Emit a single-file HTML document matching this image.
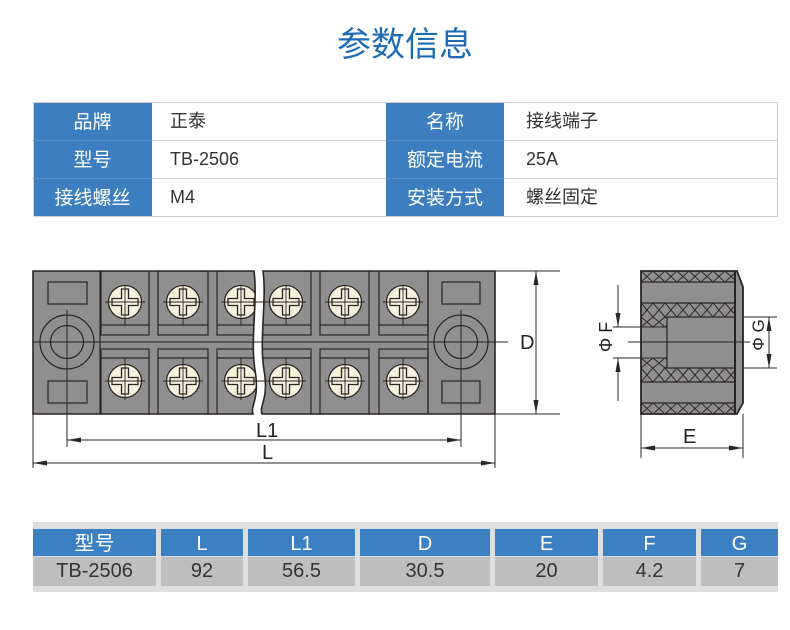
<!DOCTYPE html>
<html><head><meta charset="utf-8">
<style>
html,body{margin:0;padding:0;background:#fff;}
body{width:790px;height:630px;position:relative;overflow:hidden;font-family:"Liberation Sans","Noto Sans CJK SC",sans-serif;}
.a{position:absolute;box-sizing:border-box;}
.title{left:305px;top:25px;width:200px;height:40px;line-height:40px;text-align:center;font-size:34px;color:#1f6cb5;font-family:"Liberation Sans","Noto Sans CJK SC",sans-serif;}
.bl{background:#3c7ebf;color:#fff;font-size:19px;text-align:center;line-height:41px;height:38px;overflow:hidden;}
.wh{background:#fff;color:#333;font-size:18px;line-height:39px;height:38px;overflow:hidden;}
.hb{background:#3b80c3;color:#fff;font-size:20px;text-align:center;height:27px;line-height:30px;top:529px;overflow:hidden;}
.gd{background:#bebebe;color:#333;font-size:20px;text-align:center;height:29px;line-height:29px;top:557px;}
</style></head><body>

<div class="a title">参数信息</div>

<!-- top table -->
<div class="a bl" style="left:33px;top:102px;width:119px;">品牌</div>
<div class="a wh" style="left:152px;top:102px;width:234px;padding-left:18px;">正泰</div>
<div class="a bl" style="left:386px;top:102px;width:118px;">名称</div>
<div class="a wh" style="left:504px;top:102px;width:272px;padding-left:22px;">接线端子</div>

<div class="a bl" style="left:33px;top:140px;width:119px;">型号</div>
<div class="a wh" style="left:152px;top:140px;width:234px;padding-left:18px;">TB-2506</div>
<div class="a bl" style="left:386px;top:140px;width:118px;">额定电流</div>
<div class="a wh" style="left:504px;top:140px;width:272px;padding-left:22px;">25A</div>

<div class="a bl" style="left:33px;top:178px;width:119px;">接线螺丝</div>
<div class="a wh" style="left:152px;top:178px;width:234px;padding-left:18px;">M4</div>
<div class="a bl" style="left:386px;top:178px;width:118px;">安装方式</div>
<div class="a wh" style="left:504px;top:178px;width:272px;padding-left:22px;">螺丝固定</div>

<div class="a" style="left:33px;top:102px;width:745px;height:115px;border:1px solid #d2d2d2;"></div>
<div class="a" style="left:152px;top:140px;width:234px;height:1px;background:#d2d2d2;"></div>
<div class="a" style="left:152px;top:178px;width:234px;height:1px;background:#d2d2d2;"></div>
<div class="a" style="left:504px;top:140px;width:273px;height:1px;background:#d2d2d2;"></div>
<div class="a" style="left:504px;top:178px;width:273px;height:1px;background:#d2d2d2;"></div>
<div class="a" style="left:33px;top:140px;width:119px;height:1px;background:#5a91c9;"></div>
<div class="a" style="left:33px;top:178px;width:119px;height:1px;background:#5a91c9;"></div>
<div class="a" style="left:386px;top:140px;width:118px;height:1px;background:#5a91c9;"></div>
<div class="a" style="left:386px;top:178px;width:118px;height:1px;background:#5a91c9;"></div>

<!-- diagram -->
<svg class="a" style="left:0;top:0;" width="790" height="630" viewBox="0 0 790 630" xmlns="http://www.w3.org/2000/svg">
<defs>
  <clipPath id="cl"><path d="M33,271 H254 C258,300 250,340 255,370 C260,400 250,405 253,414 H33 Z"/></clipPath>
  <clipPath id="cr"><path d="M263,271 H495 V414 H262 C259,405 269,400 264,370 C259,340 267,300 263,271 Z"/></clipPath>
  <pattern id="p1" patternUnits="userSpaceOnUse" x="641" y="271" width="12" height="11"><path d="M0,0 L12,11 M12,0 L0,11" stroke="#2b2424" stroke-width="1" fill="none"/></pattern>
  <pattern id="p2" patternUnits="userSpaceOnUse" x="641" y="303" width="12" height="14"><path d="M0,0 L12,14 M12,0 L0,14" stroke="#2b2424" stroke-width="1" fill="none"/></pattern>
  <pattern id="p3" patternUnits="userSpaceOnUse" x="641" y="317" width="12" height="10"><path d="M0,0 L12,10 M12,0 L0,10" stroke="#2b2424" stroke-width="1" fill="none"/></pattern>
  <pattern id="p4" patternUnits="userSpaceOnUse" x="641" y="358" width="12" height="10"><path d="M0,0 L12,10 M12,0 L0,10" stroke="#2b2424" stroke-width="1" fill="none"/></pattern>
  <pattern id="p5" patternUnits="userSpaceOnUse" x="641" y="368" width="12" height="14"><path d="M0,0 L12,14 M12,0 L0,14" stroke="#2b2424" stroke-width="1" fill="none"/></pattern>
  <pattern id="p6" patternUnits="userSpaceOnUse" x="641" y="403" width="12" height="11"><path d="M0,0 L12,11 M12,0 L0,11" stroke="#2b2424" stroke-width="1" fill="none"/></pattern>
  <g id="scT">
    <line x1="-20" y1="0" x2="20" y2="0" stroke="#2b2424" stroke-width="1"/>
    <line x1="0" y1="-17" x2="0" y2="23" stroke="#2b2424" stroke-width="1"/>
    <circle cx="0" cy="0" r="16.5" fill="#f4f1dc" stroke="#2b2424" stroke-width="1.3"/>
    <path d="M-3.5,-13 H3.5 V-3.5 H13 V3.5 H3.5 V13 H-3.5 V3.5 H-13 V-3.5 H-3.5 Z" fill="none" stroke="#2b2424" stroke-width="1.3"/>
    <line x1="-20" y1="0" x2="20" y2="0" stroke="#2b2424" stroke-width="0.9"/>
    <line x1="0" y1="-17" x2="0" y2="23" stroke="#2b2424" stroke-width="0.9"/>
  </g>
  <g id="scB">
    <line x1="-20" y1="0" x2="20" y2="0" stroke="#2b2424" stroke-width="1"/>
    <circle cx="0" cy="0" r="16.5" fill="#f4f1dc" stroke="#2b2424" stroke-width="1.3"/>
    <path d="M-3.5,-13 H3.5 V-3.5 H13 V3.5 H3.5 V13 H-3.5 V3.5 H-13 V-3.5 H-3.5 Z" fill="none" stroke="#2b2424" stroke-width="1.3"/>
    <line x1="-20" y1="0" x2="20" y2="0" stroke="#2b2424" stroke-width="0.9"/>
    <line x1="0" y1="-23" x2="0" y2="19" stroke="#2b2424" stroke-width="0.9"/>
  </g>
</defs>

<!-- body pieces -->
<path d="M33,271 H254 C258,300 250,340 255,370 C260,400 250,405 253,414 H33 Z" fill="#8f8f8f"/>
<path d="M263,271 H495 V414 H262 C259,405 269,400 264,370 C259,340 267,300 263,271 Z" fill="#8f8f8f"/>

<g fill="none" stroke="#2b2424" stroke-width="1.2">
<g clip-path="url(#cl)">
  <line x1="100" y1="271" x2="100" y2="414"/>
  <rect x="48" y="282" width="39" height="22"/>
  <rect x="48" y="381" width="39" height="22"/>
  <circle cx="67" cy="342" r="27"/>
  <circle cx="67" cy="342" r="16.5"/>
  <rect x="101" y="271" width="48" height="64"/><line x1="101" y1="325" x2="149" y2="325"/>
  <rect x="101" y="349" width="48" height="65"/><line x1="101" y1="358" x2="149" y2="358"/>
  <rect x="158" y="271" width="50" height="64"/><line x1="158" y1="325" x2="208" y2="325"/>
  <rect x="158" y="349" width="50" height="65"/><line x1="158" y1="358" x2="208" y2="358"/>
  <rect x="217" y="271" width="60" height="64"/><line x1="217" y1="325" x2="277" y2="325"/>
  <rect x="217" y="349" width="60" height="65"/><line x1="217" y1="358" x2="277" y2="358"/>
  <use href="#scT" x="125" y="302"/><use href="#scB" x="125" y="381"/>
  <use href="#scT" x="183" y="302"/><use href="#scB" x="183" y="381"/>
  <use href="#scT" x="241" y="302"/><use href="#scB" x="241" y="381"/>
</g>
<g clip-path="url(#cr)">
  <rect x="245" y="271" width="66" height="64"/><line x1="245" y1="325" x2="311" y2="325"/>
  <rect x="245" y="349" width="66" height="65"/><line x1="245" y1="358" x2="311" y2="358"/>
  <rect x="320" y="271" width="49" height="64"/><line x1="320" y1="325" x2="369" y2="325"/>
  <rect x="320" y="349" width="49" height="65"/><line x1="320" y1="358" x2="369" y2="358"/>
  <rect x="379" y="271" width="49" height="64"/><line x1="379" y1="325" x2="428" y2="325"/>
  <rect x="379" y="349" width="49" height="65"/><line x1="379" y1="358" x2="428" y2="358"/>
  <line x1="428" y1="271" x2="428" y2="414"/>
  <rect x="442" y="282" width="38" height="22"/>
  <rect x="442" y="381" width="38" height="22"/>
  <circle cx="461" cy="342" r="27"/>
  <circle cx="461" cy="342" r="16.5"/>
  <use href="#scT" x="286" y="302"/><use href="#scB" x="286" y="381"/>
  <use href="#scT" x="345" y="302"/><use href="#scB" x="345" y="381"/>
  <use href="#scT" x="403" y="302"/><use href="#scB" x="403" y="381"/>
</g>
<path d="M33,271 H254 C258,300 250,340 255,370 C260,400 250,405 253,414 H33 Z" stroke-width="1.6"/>
<path d="M263,271 H495 V414 H262 C259,405 269,400 264,370 C259,340 267,300 263,271 Z" stroke-width="1.6"/>
</g>

<!-- center / extension lines -->
<g stroke="#2b2424" stroke-width="1" fill="none">
  <line x1="33" y1="342" x2="508" y2="342"/>
  <line x1="244" y1="302" x2="272" y2="302"/>
  <line x1="244" y1="381" x2="272" y2="381"/>
  <line x1="67" y1="310" x2="67" y2="447"/>
  <line x1="461" y1="310" x2="461" y2="447"/>
  <line x1="33" y1="414" x2="33" y2="468"/>
  <line x1="495" y1="414" x2="495" y2="468"/>
  <line x1="67" y1="440" x2="461" y2="440"/>
  <line x1="33" y1="463" x2="495" y2="463"/>
  <line x1="495" y1="271" x2="560" y2="271"/>
  <line x1="495" y1="414" x2="560" y2="414"/>
  <line x1="536" y1="271" x2="536" y2="414"/>
</g>
<g fill="#2b2424">
  <polygon points="67,440 81,437.5 81,442.5"/>
  <polygon points="461,440 447,437.5 447,442.5"/>
  <polygon points="33,463 47,460.5 47,465.5"/>
  <polygon points="495,463 481,460.5 481,465.5"/>
  <polygon points="536,271 533.5,285 538.5,285"/>
  <polygon points="536,414 533.5,400 538.5,400"/>
</g>
<g font-family="Liberation Sans, sans-serif" font-size="20" fill="#222">
  <text x="520" y="349">D</text>
  <text x="256" y="437">L1</text>
  <text x="262" y="459">L</text>
</g>

<!-- side view -->
<polygon points="641,271 737,271 743,287 743,403 737,414 641,414" fill="#8f8f8f"/>
<rect x="641" y="271" width="94" height="11" fill="url(#p1)"/>
<rect x="641" y="303" width="94" height="14" fill="url(#p2)"/>
<rect x="641" y="317" width="26" height="10" fill="url(#p3)"/>
<rect x="641" y="358" width="26" height="10" fill="url(#p4)"/>
<rect x="641" y="368" width="94" height="14" fill="url(#p5)"/>
<rect x="641" y="403" width="94" height="11" fill="url(#p6)"/>
<g stroke="#2b2424" stroke-width="1.2" fill="none">
  <line x1="641" y1="282" x2="735" y2="282"/>
  <line x1="641" y1="303" x2="735" y2="303"/>
  <line x1="641" y1="382" x2="735" y2="382"/>
  <line x1="641" y1="403" x2="735" y2="403"/>
  <rect x="667" y="317" width="68" height="51" fill="#8f8f8f"/>
  <line x1="735" y1="271" x2="735" y2="414" stroke-width="2"/>
  <polygon points="641,271 737,271 743,287 743,403 737,414 641,414" stroke-width="1.8"/>
</g>
<g stroke="#2b2424" stroke-width="1" fill="none">
  <line x1="613" y1="327" x2="667" y2="327"/>
  <line x1="613" y1="358" x2="667" y2="358"/>
  <line x1="628" y1="342" x2="750" y2="342"/>
  <line x1="618" y1="285" x2="618" y2="327"/>
  <line x1="618" y1="358" x2="618" y2="401"/>
  <line x1="743" y1="317" x2="777" y2="317"/>
  <line x1="743" y1="368" x2="777" y2="368"/>
  <line x1="769" y1="317" x2="769" y2="368"/>
  <line x1="641" y1="414" x2="641" y2="458"/>
  <line x1="743" y1="414" x2="743" y2="458"/>
  <line x1="641" y1="448" x2="743" y2="448"/>
</g>
<g fill="#2b2424">
  <polygon points="618,327 615.5,313 620.5,313"/>
  <polygon points="618,358 615.5,372 620.5,372"/>
  <polygon points="769,317 766.5,331 771.5,331"/>
  <polygon points="769,368 766.5,354 771.5,354"/>
  <polygon points="641,448 655,445.5 655,450.5"/>
  <polygon points="743,448 729,445.5 729,450.5"/>
</g>
<g font-family="Liberation Sans, sans-serif" fill="#222">
  <text x="683" y="443" font-size="20">E</text>
  <text transform="translate(612,337) rotate(-90)" text-anchor="middle" font-size="18">Φ F</text>
  <text transform="translate(764,335) rotate(-90)" text-anchor="middle" font-size="17">Φ G</text>
</g>
</svg>

<!-- bottom table -->
<div class="a" style="left:33px;top:522px;width:745px;height:70px;background:#dedede;"></div>
<div class="a hb" style="left:33px;width:123px;">型号</div>
<div class="a hb" style="left:161px;width:82px;">L</div>
<div class="a hb" style="left:248px;width:107px;">L1</div>
<div class="a hb" style="left:360px;width:130px;">D</div>
<div class="a hb" style="left:495px;width:103px;">E</div>
<div class="a hb" style="left:603px;width:93px;">F</div>
<div class="a hb" style="left:701px;width:77px;">G</div>

<div class="a gd" style="left:33px;width:123px;">TB-2506</div>
<div class="a gd" style="left:161px;width:82px;">92</div>
<div class="a gd" style="left:248px;width:107px;">56.5</div>
<div class="a gd" style="left:360px;width:130px;">30.5</div>
<div class="a gd" style="left:495px;width:103px;">20</div>
<div class="a gd" style="left:603px;width:93px;">4.2</div>
<div class="a gd" style="left:701px;width:77px;">7</div>

</body></html>
